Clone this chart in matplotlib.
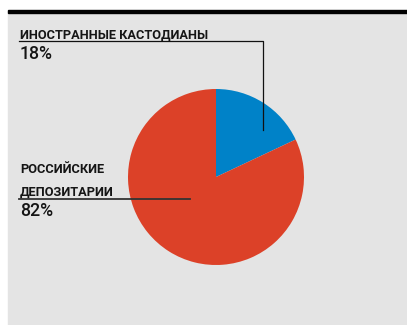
import matplotlib.pyplot as plt
from matplotlib.patches import Rectangle

shares = [18, 82]
colors = ["#0082c8", "#dc4128"]
labels = ["ИНОСТРАННЫЕ КАСТОДИАНЫ", "РОССИЙСКИЕ\nДЕПОЗИТАРИИ"]
pct_labels = ["18%", "82%"]

W, H = 407, 325
fig = plt.figure(figsize=(W / 100, H / 100), dpi=100)
fig.patch.set_facecolor("white")
ax = fig.add_axes([0, 0, 1, 1])
ax.axis("off")

def fy(y):
    # pixel row from top -> data y
    return H - y

# background panel and top rule
ax.add_patch(Rectangle((8, 0), W - 8, fy(11), color="#e4e4e4", zorder=0))
ax.add_patch(Rectangle((8, fy(13)), W - 8, 3, color="black", zorder=1))

ax.pie(shares, colors=colors, startangle=90, counterclock=False,
       center=(216, fy(177)), radius=88, wedgeprops=dict(linewidth=0))

ax.set_xlim(0, W)
ax.set_ylim(0, H)
ax.set_aspect("equal")

font = ["Roboto", "DejaVu Sans"]
lab = dict(fontsize=9.2, fontweight="bold", family=font, va="baseline",
           ha="left", color="#151515")
pct = dict(fontsize=12.8, fontweight="medium", family=font, va="baseline",
           ha="left", color="#151515")

# foreign custodians label
ax.text(20, fy(38.3), labels[0], **lab)
ax.plot([19, 263, 263], [fy(41), fy(41), fy(130)], color="#111111", lw=0.9, zorder=5)
ax.text(20, fy(59.3), pct_labels[0], **pct)

# russian depositories label
top, bottom = labels[1].split("\n")
ax.text(20, fy(173.3), top, **lab)
ax.text(20, fy(195.7), bottom, **lab)
ax.plot([19, 190], [fy(198.5), fy(198.5)], color="#333333", lw=1.3, zorder=5)
ax.text(20, fy(215.7), pct_labels[1], **pct)

fig.savefig("out.png", dpi=100)
